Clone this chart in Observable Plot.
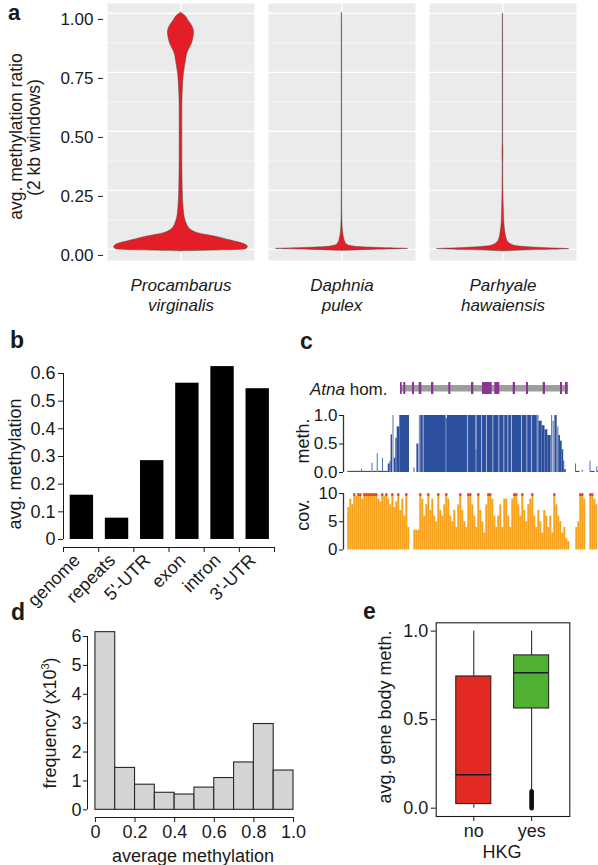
<!DOCTYPE html>
<html><head><meta charset="utf-8">
<script src="https://cdn.jsdelivr.net/npm/d3@7"></script>
<script src="https://cdn.jsdelivr.net/npm/@observablehq/plot@0.6"></script>
<style>
html,body{margin:0;padding:0;background:#fff;overflow:hidden}
#fig{position:relative;width:598px;height:865px;background:#fff;font-family:"Liberation Sans",Arial,sans-serif}
#fig svg{position:absolute;left:0;top:0;background:transparent;overflow:visible;font-family:"Liberation Sans",Arial,sans-serif}
</style></head><body><div id="fig"></div>
<script>
// ---------------- DATA ----------------
// (a) violin profiles: methylation ratio (y) and relative density half-width (w)
const species = ["Procambarus virginalis", "Daphnia pulex", "Parhyale hawaiensis"];
const speciesLabels = ["Procambarus\nvirginalis", "Daphnia\npulex", "Parhyale\nhawaiensis"];
const procY = [-0.008,-0.004,0.0,0.01,0.02,0.03,0.04,0.052,0.062,0.07,0.08,0.095,0.115,0.136,0.17,0.21,0.26,0.35,0.45,0.55,0.62,0.69,0.74,0.77,0.8,0.83,0.85,0.87,0.89,0.905,0.921,0.945,0.97,0.99,1.003];
const procW = [0,0.6,0.88,0.91,0.88,0.78,0.65,0.5,0.33,0.22,0.15,0.1,0.07,0.05,0.037,0.028,0.023,0.019,0.018,0.018,0.019,0.027,0.038,0.052,0.068,0.086,0.115,0.147,0.165,0.174,0.177,0.155,0.1,0.056,0];
const daphY = [-0.006,-0.002,0.002,0.006,0.01,0.015,0.02,0.03,0.045,0.06,0.08,0.1,0.13,0.2,0.4,0.6,0.8,0.95,1.0,1.003];
const daphW = [0,0.4,0.9,0.5,0.22,0.11,0.07,0.045,0.03,0.02,0.013,0.009,0.006,0.004,0.003,0.003,0.003,0.003,0.002,0];
const parhY = [-0.008,-0.003,0.001,0.005,0.009,0.013,0.02,0.03,0.045,0.068,0.1,0.15,0.21,0.28,0.36,0.39,0.42,0.45,0.5,0.7,0.9,0.996,1.0];
const parhW = [0,0.45,0.9,0.6,0.35,0.2,0.12,0.075,0.05,0.034,0.021,0.013,0.008,0.005,0.004,0.006,0.006,0.004,0.003,0.003,0.003,0.002,0];
const aTicks = [0, 0.25, 0.5, 0.75, 1];
const aMinor = [0.125, 0.375, 0.625, 0.875];

// (b) average methylation per feature
const bCats = ["genome", "repeats", "5'-UTR", "exon", "intron", "3'-UTR"];
const bVals = [0.16, 0.077, 0.285, 0.565, 0.625, 0.545];
const bTicks = [0, 0.1, 0.2, 0.3, 0.4, 0.5, 0.6];

// (c) Atna homolog locus (positions in 100 bp units)
const geneSpan = [53, 220.7];
const exonStart = [53, 56.3, 65, 71.7, 84, 101.3, 124, 135, 147.3, 165.7, 179, 195.7, 213, 218];
const exonEnd   = [54.7, 58.3, 67, 74.3, 86.3, 103.3, 126.3, 144.7, 152.3, 168, 181, 198, 215, 220.7];
const methStart = [0.3,14.2,15,24.6,25.4,29.8,30.6,35,35.8,40.8,42.6,43.6,45.6,46.8,48.3,49.7,52.3,66.5,69.4,71.9,73.2,76.4,98.6,99.8,121,128.6,129.4,134.6,139.6,146.2,152.2,157.2,161.2,164.6,174.6,180.2,184.6,190.4,191.4,194.7,197.5,200.3,204.3,205.7,207.4,210.4,211.3,213,214.7,216.2,217.2,228.2,229,234.8,242.6,243.4,249.4,250.2];
const methEnd   = [14.2,15,24.6,25.4,29.8,30.6,35,35.8,40.8,42.6,43.6,45,46.4,48.3,49.7,52.3,62,67.4,71.4,72.6,75.8,98.6,99.8,120.4,128.6,129.4,134,139,145.6,151.6,156.6,160.6,164,174,179.6,184,189.8,191.4,194.7,197.5,200.3,203.7,205.1,206.6,209.7,211.3,213,214.7,216.2,217.2,218.8,229,232.5,235.6,243.4,247.6,250.2,251];
const methVal   = [0.02,0.06,0.02,0.16,0.02,0.33,0.02,0.25,0.02,0.15,0.2,0.66,1,0.25,0.6,0.8,1,0.08,0.5,1,1,1,0.95,1,1,0.4,1,1,1,1,1,1,1,1,1,1,1,1,0.9,0.82,0.75,0.65,1,0.9,1,0.8,0.65,0.55,0.4,0.2,0.05,0.15,0.02,0.04,0.2,0.02,0.1,0.02];
const covFirst = 0.3, covBin = 2;   // coverage bins of 200 bp
const covVals = [7.5,9,8,10,9.5,10,10,9,10,10, 10,10,10,10,10,9,8.5,10,9.5,10, 9,8,10,7.5,8.5,10,7,9,6,10,
  4,null,null,3.5,3.5,3.5,10,9,6,8, 10,7,9,6,5,10,7,6,8,10, 9,6,5,7,4,8,10,7,5,4,
  10,10,8,6,4,10,7,5,3,8, 10,10,9,6,4,6,8,4,9,9, 6,4,9,10,10,8,6,10,7,5,
  8,9,10,6,4,7,5,3,7,6, 4,6,3,10,8,6,5,3,4,2, 1.5,null,null,null,4,5,10,10,9,null, null,10,10,9,8];
const covCap = 10;

// (d) histogram of average methylation
const dEdges = [0, 0.1, 0.2, 0.3, 0.4, 0.5, 0.6, 0.7, 0.8, 0.9, 1.0];
const dFreq  = [6.15, 1.45, 0.87, 0.59, 0.53, 0.77, 1.10, 1.64, 2.97, 1.36];
const dXTicks = [0, 0.2, 0.4, 0.6, 0.8, 1.0];
const dYTicks = [0, 1, 2, 3, 4, 5, 6];

// (e) gene body methylation by housekeeping status
const eCats = ["no", "yes"];
const eLow  = [0.0, 0.104];
const eQ1   = [0.023, 0.563];
const eMed  = [0.189, 0.765];
const eQ3   = [0.744, 0.863];
const eHigh = [1.0, 1.0];
const eOutYes = [0.0, 0.006, 0.012, 0.019, 0.025, 0.032, 0.038, 0.045, 0.051, 0.058, 0.064, 0.071, 0.077, 0.084, 0.09, 0.096];
const eTicks = [0, 0.5, 1];

// ---------------- DRAW ----------------
const W = 598, H = 865;
const ink = "#1a1a1a";
const fig = document.getElementById("fig");
const add = (p) => fig.appendChild(p);

// panel a
const violinData = [[procY, procW], [daphY, daphW], [parhY, parhW]]
  .flatMap(([ys, ws], k) => ys.map((y, i) => ({species: species[k], y, w: ws[i]})));
add(Plot.plot({
  width: W, height: H, marginLeft: 107, marginRight: 22, marginTop: 3, marginBottom: 605,
  fx: {domain: species, paddingInner: 0.087, paddingOuter: 0, axis: null, label: null},
  x: {domain: [-1, 1], axis: null, label: null},
  y: {domain: [-0.047, 1.042], axis: null, label: null},
  marks: [
    Plot.frame({fill: "#ebebeb", stroke: null}),
    Plot.gridY({ticks: aMinor, stroke: "white", strokeOpacity: 1, strokeWidth: 0.6}),
    Plot.gridY({ticks: aTicks, stroke: "white", strokeOpacity: 1, strokeWidth: 1.2}),
    Plot.ruleX([0], {stroke: "white", strokeWidth: 1.2}),
    Plot.areaX(violinData, {fx: "species", y: "y", x1: d => -d.w, x2: d => d.w, fill: "#e41e26",
      stroke: "#4a4a4a", strokeWidth: 0.5, curve: "monotone-y"}),
    Plot.axisY({ticks: aTicks, tickFormat: d3.format(".2f"), tickSize: 5, tickPadding: 5, dx: -4, dy: 6,
      fontSize: 17, color: ink, label: null}),
    Plot.text(species, {fx: d => d, text: (d, i) => speciesLabels[i], frameAnchor: "bottom", lineAnchor: "top",
      dy: 16, fontSize: 17, fontStyle: "italic", lineHeight: 1.17, fill: ink})
  ]
}));

// panel b
const bYDomain = [-0.029, 0.6];
add(Plot.plot({
  width: W, height: H, marginLeft: 63, marginRight: 324, marginTop: 373, marginBottom: 318,
  x: {domain: [0, bCats.length], axis: null, label: null},
  y: {domain: bYDomain, axis: null, label: null},
  marks: [
    Plot.rect(bCats, {x1: (d, i) => i + 0.19, x2: (d, i) => i + 0.855, y1: 0, y2: (d, i) => bVals[i], fill: "#000"}),
    Plot.ruleX([0], {y1: 0, y2: bTicks[bTicks.length - 1], stroke: ink}),
    Plot.ruleY([bYDomain[0]], {x1: 0, x2: bCats.length, stroke: ink}),
    Plot.axisY({ticks: bTicks, tickFormat: d => d === 0 ? "0" : d.toFixed(1), tickSize: 5, tickPadding: 3, fontSize: 18, color: ink, label: null}),
    Plot.axisX({ticks: d3.range(bCats.length + 1), tickFormat: () => "", tickSize: 5, color: ink, label: null}),
    Plot.text(bCats, {x: (d, i) => i + 0.5, frameAnchor: "bottom", rotate: -45, textAnchor: "end",
      dx: 0, dy: 14, fontSize: 18, fill: ink})
  ]
}));

// panel c
const cXDomain = [-4, 251];
const exons = exonStart.map((s, i) => ({s, e: exonEnd[i]}));
add(Plot.plot({
  width: W, height: H, marginLeft: 343, marginRight: 0, marginTop: 382, marginBottom: 471,
  x: {domain: cXDomain, axis: null, label: null},
  marks: [
    Plot.rect([geneSpan], {x1: d => d[0], x2: d => d[1], insetTop: 3, insetBottom: 2.5, fill: "#9d9d9d"}),
    Plot.rect(exons, {x1: "s", x2: "e", fill: "#8a3594"})
  ]
}));
const meth = methStart.map((s, i) => ({s, e: methEnd[i], v: methVal[i]}));
add(Plot.plot({
  width: W, height: H, marginLeft: 343, marginRight: 0, marginTop: 415, marginBottom: 393,
  x: {domain: cXDomain, axis: null, label: null},
  y: {domain: [0, 1], axis: null, label: null},
  marks: [
    Plot.rect(meth, {x1: "s", x2: "e", y1: 0, y2: "v", fill: "#2c4f9e"}),
    Plot.ruleX([cXDomain[0]], {y1: 0, y2: 1, stroke: "#333", strokeWidth: 1.3}),
    Plot.axisY({ticks: [0, 0.5, 1], tickFormat: ".1f", tickSize: 4, tickPadding: 2, fontSize: 17, color: ink, label: null})
  ]
}));
const cov = covVals.map((v, i) => ({s: covFirst + covBin * i, e: covFirst + covBin * (i + 1), v})).filter(d => d.v != null);
add(Plot.plot({
  width: W, height: H, marginLeft: 343, marginRight: 0, marginTop: 493, marginBottom: 315.5,
  x: {domain: cXDomain, axis: null, label: null},
  y: {domain: [0, covCap], axis: null, label: null},
  marks: [
    Plot.rect(cov, {x1: "s", x2: "e", y1: 0, y2: "v", fill: "#f5a31f"}),
    Plot.ruleY(cov.filter(d => d.v >= covCap), {x1: "s", x2: "e", y: "v", stroke: "#e2401d", strokeWidth: 2.5, dy: 1.2}),
    Plot.ruleX([cXDomain[0]], {y1: 0, y2: covCap, stroke: "#333", strokeWidth: 1.3}),
    Plot.axisY({ticks: [0, 5, 10], tickSize: 4, tickPadding: 2, fontSize: 17, color: ink, label: null})
  ]
}));

// panel d
const dXDomain = [-0.04, 1], dYDomain = [-0.266, 6];
const hist = dFreq.map((f, i) => ({x1: dEdges[i], x2: dEdges[i + 1], f}));
add(Plot.plot({
  width: W, height: H, marginLeft: 87, marginRight: 305, marginTop: 636, marginBottom: 48,
  x: {domain: dXDomain, axis: null, label: null},
  y: {domain: dYDomain, axis: null, label: null},
  marks: [
    Plot.rect(hist, {x1: "x1", x2: "x2", y1: 0, y2: "f", fill: "#d4d4d4", stroke: "#262626", strokeWidth: 1.1}),
    Plot.ruleX([dXDomain[0]], {y1: 0, y2: 6, stroke: ink}),
    Plot.ruleY([dYDomain[0]], {x1: 0, x2: 1, stroke: ink}),
    Plot.axisY({ticks: dYTicks, tickFormat: d => String(d), tickSize: 4, tickPadding: 2, fontSize: 18, color: ink, label: null}),
    Plot.axisX({ticks: dXTicks, tickFormat: d => d === 0 ? "0" : d.toFixed(1), tickSize: 5, tickPadding: 3, fontSize: 18, color: ink, label: null})
  ]
}));

// panel e
const boxes = eCats.map((c, i) => ({c, k: i + 1, lo: eLow[i], q1: eQ1[i], med: eMed[i], q3: eQ3[i], hi: eHigh[i]}));
add(Plot.plot({
  width: W, height: H, marginLeft: 435.7, marginRight: 28.7, marginTop: 622.3, marginBottom: 49,
  x: {domain: [0.35, 2.66], axis: null, label: null},
  y: {domain: [-0.047, 1.047], axis: null, label: null},
  color: {domain: eCats, range: ["#e32a22", "#4fb034"]},
  marks: [
    Plot.ruleX(boxes, {x: "k", y1: "lo", y2: "q1", stroke: ink}),
    Plot.ruleX(boxes, {x: "k", y1: "q3", y2: "hi", stroke: ink}),
    Plot.rect(boxes, {x1: d => d.k - 0.303, x2: d => d.k + 0.303, y1: "q1", y2: "q3", fill: "c", stroke: ink, strokeWidth: 1}),
    Plot.ruleY(boxes, {x1: d => d.k - 0.303, x2: d => d.k + 0.303, y: "med", stroke: ink, strokeWidth: 1.4}),
    Plot.dot(eOutYes, {x: 2, y: d => d, r: 1.5, fill: "#111", stroke: "#111"}),
    Plot.frame({stroke: ink, strokeWidth: 1.1}),
    Plot.axisY({ticks: eTicks, tickFormat: ".1f", tickSize: 5, tickPadding: 3, fontSize: 18, color: ink, label: null}),
    Plot.axisX({ticks: [1, 2], tickFormat: d => eCats[d - 1], tickSize: 5, tickPadding: 3, fontSize: 18, color: ink, label: null})
  ]
}));

// ---------------- TEXT LAYER (panel letters and titles) ----------------
const ov = d3.select(fig).append("svg").attr("width", W).attr("height", H)
  .attr("font-family", '"Liberation Sans", Arial, sans-serif').attr("fill", ink);
function txt(x, y, s, o = {}) {
  const t = ov.append("text")
    .attr("transform", `translate(${x},${y})` + (o.rot ? ` rotate(${o.rot})` : ""))
    .attr("font-size", o.size || 18)
    .attr("text-anchor", o.anchor || "middle");
  if (o.bold) t.attr("font-weight", "bold");
  if (o.italic) t.attr("font-style", "italic");
  t.text(s);
  return t;
}
txt(8, 20, "a", {size: 22, bold: true, anchor: "start"});
txt(10, 348, "b", {size: 23, bold: true, anchor: "start"});
txt(300, 349, "c", {size: 23, bold: true, anchor: "start"});
txt(11, 620, "d", {size: 23, bold: true, anchor: "start"});
txt(363, 619, "e", {size: 23, bold: true, anchor: "start"});

txt(22, 136.5, "avg. methylation ratio", {rot: -90, size: 17.5});
txt(40, 137.5, "(2 kb windows)", {rot: -90, size: 17.5});
txt(21, 464, "avg. methylation", {rot: -90, size: 18});

const gl = ov.append("text").attr("transform", "translate(310,395)").attr("font-size", 17).attr("text-anchor", "start");
gl.append("tspan").attr("font-style", "italic").text("Atna");
gl.append("tspan").text(" hom.");
txt(309, 441, "meth.", {rot: -90, size: 18});
txt(309, 515, "cov.", {rot: -90, size: 18});

const fq = ov.append("text").attr("transform", "translate(56,723) rotate(-90)").attr("font-size", 18).attr("text-anchor", "middle");
fq.append("tspan").text("frequency (x10");
fq.append("tspan").attr("font-size", 11).attr("dy", -7).text("3");
fq.append("tspan").attr("dy", 7).text(")");
txt(193, 862, "average methylation", {size: 18});

txt(391, 717, "avg. gene body meth.", {rot: -90, size: 18});
txt(502, 858, "HKG", {size: 18});
</script></body></html>
